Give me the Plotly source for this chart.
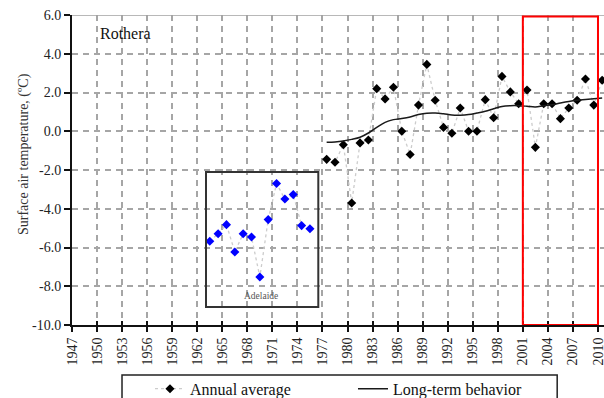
import plotly.graph_objects as go

# ---------------- data ----------------
rothera_years = list(range(1977, 2011))
rothera_temp = [-1.45, -1.6, -0.7, -3.7, -0.6, -0.45, 2.2, 1.67, 2.27, 0.0,
                -1.2, 1.35, 3.45, 1.6, 0.2, -0.1, 1.2, 0.0, 0.0, 1.63,
                0.7, 2.83, 2.03, 1.42, 2.13, -0.83, 1.42, 1.42, 0.65, 1.2,
                1.6, 2.7, 1.35, 2.63]
longterm_temp = [-0.57, -0.55, -0.5, -0.42, -0.31, -0.09, 0.2, 0.46, 0.6, 0.66,
                 0.74, 0.86, 0.93, 0.94, 0.9, 0.84, 0.83, 0.86, 0.94, 1.03,
                 1.16, 1.28, 1.32, 1.32, 1.29, 1.25, 1.32, 1.37, 1.46, 1.54,
                 1.6, 1.64, 1.68, 1.72]
adelaide_years = list(range(1963, 1976))
adelaide_temp = [-5.68, -5.29, -4.82, -6.23, -5.29, -5.46, -7.52, -4.56, -2.7,
                 -3.5, -3.27, -4.87, -5.03]
x_tick_years = list(range(1947, 2011, 3))
y_tick_values = [-10, -8, -6, -4, -2, 0, 2, 4, 6]
y_tick_labels = ["-10.0", "-8.0", "-6.0", "-4.0", "-2.0", "0.0", "2.0", "4.0", "6.0"]

SERIF = "Liberation Serif, Times New Roman, serif"
# category-style axis: tick marks sit between years (half a year before each label year)
x_tickvals = [y - 0.5 for y in x_tick_years]
x_ticktext = [str(y) for y in x_tick_years]

fig = go.Figure()

fig.add_trace(go.Scatter(
    x=adelaide_years, y=adelaide_temp, mode="lines+markers",
    line=dict(color="#cccccc", width=1.3, dash="dot"),
    marker=dict(symbol="diamond", size=7, color="#0000ff"),
    showlegend=False))

fig.add_trace(go.Scatter(
    x=rothera_years, y=rothera_temp, mode="lines+markers", name="Annual average",
    line=dict(color="#cccccc", width=1.3, dash="dot"),
    marker=dict(symbol="diamond", size=7, color="#000000")))

fig.add_trace(go.Scatter(
    x=rothera_years, y=longterm_temp, mode="lines", name="Long-term behavior",
    line=dict(color="#1a1a1a", width=1.5, shape="spline")))

# invisible trace on overlay axis for inside tick marks (cross ticks)
fig.add_trace(go.Scatter(x=[1947], y=[-10], xaxis="x2", mode="markers",
                         marker=dict(opacity=0), showlegend=False, hoverinfo="skip"))

x_range = [1946.5, 2010.22]

fig.update_layout(
    width=604, height=398,
    margin=dict(l=72, r=0, t=15, b=73, autoexpand=False),
    paper_bgcolor="white", plot_bgcolor="white",
    font=dict(family=SERIF, size=14, color="#222"),
    xaxis=dict(
        range=x_range, tickmode="array", tickvals=x_tickvals, ticktext=x_ticktext,
        tickangle=-90, ticks="outside", ticklen=5, tickwidth=1.5, tickcolor="#111",
        ticklabeloverflow="allow",
        showline=True, linecolor="#111", linewidth=2,
        showgrid=True, gridcolor="#a6a6a6", gridwidth=1.5, griddash="6px,5px",
        zeroline=False, tickfont=dict(family=SERIF, size=14, color="#222")),
    xaxis2=dict(
        range=x_range, overlaying="x", anchor="y", side="bottom",
        tickmode="array", tickvals=x_tickvals, ticks="inside", ticklen=4,
        tickwidth=1.5, tickcolor="#111", showticklabels=False,
        showgrid=False, showline=False, zeroline=False),
    yaxis=dict(
        range=[-10, 6], tickmode="array", tickvals=y_tick_values, ticktext=y_tick_labels,
        ticks="outside", ticklen=6, tickwidth=1.5, tickcolor="#111",
        showline=True, linecolor="#111", linewidth=2,
        showgrid=True, gridcolor="#a6a6a6", gridwidth=1.5, griddash="6px,5px",
        zeroline=False, tickfont=dict(family=SERIF, size=14, color="#222")),
    legend=dict(
        orientation="h", x=0.1466, y=-0.151, xanchor="left", yanchor="top",
        font=dict(family=SERIF, size=16, color="#111"),
        bgcolor="rgba(0,0,0,0)", borderwidth=0,
        entrywidth=158, entrywidthmode="pixels"),
    showlegend=True,
)

shapes = [
    # solid top border line
    dict(type="line", xref="paper", x0=0, x1=1, yref="y", y0=6, y1=6,
         line=dict(color="#a0a0a0", width=1.5), layer="above"),
    # red highlight rectangle
    dict(type="rect", xref="x", yref="y", x0=2000.5, x1=2009.5, y0=-10, y1=5.92,
         line=dict(color="#ff0000", width=2), fillcolor="rgba(0,0,0,0)", layer="above"),
    # Adelaide inset box
    dict(type="rect", xref="x", yref="y", x0=1962.55, x1=1976.0, y0=-9.07, y1=-2.1,
         line=dict(color="#333333", width=2), fillcolor="rgba(0,0,0,0)", layer="above"),
    # legend frame
    dict(type="rect", xref="paper", yref="paper", x0=0.094, x1=0.912, y0=-0.25, y1=-0.161,
         line=dict(color="#222222", width=1.5), fillcolor="rgba(0,0,0,0)"),
]
fig.update_layout(shapes=shapes)

fig.add_annotation(text="Surface air temperature, (ºC)", xref="paper", yref="paper",
                   x=-0.0902, y=0.5516, xanchor="center", yanchor="middle",
                   textangle=-90, showarrow=False,
                   font=dict(family=SERIF, size=14, color="#333"))
fig.add_annotation(text="Rothera", xref="x", yref="y", x=1949.65, y=5.06,
                   xanchor="left", yanchor="middle", showarrow=False,
                   font=dict(family=SERIF, size=16, color="#111"))
fig.add_annotation(text="Adelaide", xref="x", yref="y", x=1969.17, y=-8.49,
                   xanchor="center", yanchor="middle", showarrow=False,
                   font=dict(family=SERIF, size=9.5, color="#555"))

fig.write_html("out.html", config=dict(displayModeBar=False),
               post_script="document.body.style.margin='0';document.body.style.overflow='hidden';")
